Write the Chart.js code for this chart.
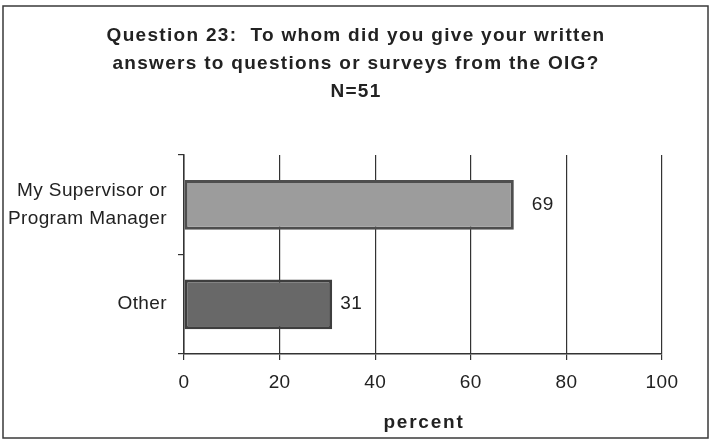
<!DOCTYPE html>
<html>
<head>
<meta charset="utf-8">
<script src="https://cdn.jsdelivr.net/npm/chart.js@4/dist/chart.umd.min.js"></script>
<style>
  html, body { margin: 0; padding: 0; background: #fff; }
  #wrap { width: 711px; height: 441px; position: relative; }
</style>
</head>
<body>
<div id="wrap"><canvas id="chart" width="711" height="441"></canvas></div>
<script>
// ── DATA ─────────────────────────────────────────────────
const titleLines = [
  'Question 23:  To whom did you give your written',
  'answers to questions or surveys from the OIG?',
  'N=51'
];
const categories = [['My Supervisor or', 'Program Manager'], 'Other'];
const percents   = [69, 31];
const xTicks     = [0, 20, 40, 60, 80, 100];
const axisTitle  = 'percent';

const FONT = "'Liberation Sans', Arial, sans-serif";
const labelGap = [18, 8];   // px between bar end and its value label

// ── PLUGINS ──────────────────────────────────────────────
// white page, outer frame, slight letter spacing for library text
const framePlugin = {
  id: 'frame',
  beforeDraw(chart) {
    const ctx = chart.ctx;
    ctx.save();
    ctx.fillStyle = '#fff';
    ctx.fillRect(0, 0, chart.width, chart.height);
    ctx.strokeStyle = '#3a3a3a';
    ctx.lineWidth = 1.5;
    ctx.strokeRect(3, 6, 705, 432);
    ctx.restore();
    ctx.letterSpacing = '0.4px';
  }
};

// heading + axis title, spaced out like the original
const headings = {
  id: 'headings',
  afterDraw(chart) {
    const ctx = chart.ctx;
    const area = chart.chartArea;
    ctx.save();
    ctx.fillStyle = '#222';
    ctx.textAlign = 'center';
    ctx.textBaseline = 'alphabetic';
    ctx.font = 'bold 19px ' + FONT;
    ctx.letterSpacing = '1.3px';
    titleLines.forEach((line, i) => {
      ctx.fillText(line, 356, 41 + i * 28);
    });
    ctx.font = 'bold 19px ' + FONT;
    ctx.letterSpacing = '1.8px';
    ctx.fillText(axisTitle, (area.left + area.right) / 2 + 1, 428);
    ctx.restore();
  }
};

// value labels to the right of each bar
const valueLabels = {
  id: 'valueLabels',
  afterDatasetsDraw(chart) {
    const ctx = chart.ctx;
    const meta = chart.getDatasetMeta(0);
    ctx.save();
    ctx.font = '19px ' + FONT;
    ctx.fillStyle = '#222';
    ctx.textAlign = 'left';
    ctx.textBaseline = 'middle';
    meta.data.forEach((bar, i) => {
      ctx.fillText(String(percents[i]), bar.x + labelGap[i], bar.y);
    });
    ctx.restore();
  }
};

// ── CHART ────────────────────────────────────────────────
new Chart(document.getElementById('chart').getContext('2d'), {
  type: 'bar',
  data: {
    labels: categories,
    datasets: [{
      data: percents,
      backgroundColor: ['#9c9c9c', '#686868'],
      borderColor: ['#4e4e4e', '#3e3e3e'],
      borderWidth: 3,
      borderSkipped: false,
      categoryPercentage: 1,
      barPercentage: 0.5
    }]
  },
  options: {
    indexAxis: 'y',
    responsive: false,
    animation: false,
    events: [],
    layout: { padding: { left: 0, right: 49, top: 155, bottom: 0 } },
    plugins: {
      legend: { display: false },
      tooltip: { enabled: false },
      title: { display: false }
    },
    scales: {
      x: {
        min: 0,
        max: 100,
        afterBuildTicks(scale) { scale.ticks = xTicks.map(v => ({ value: v })); },
        afterFit(scale) { scale.height = 87; },
        border: { display: true, color: '#333', width: 1.5 },
        grid: { color: '#333', lineWidth: 1.2, tickLength: 6, drawTicks: true },
        ticks: { color: '#222', font: { family: FONT, size: 19 }, padding: 11 }
      },
      y: {
        afterFit(scale) { scale.width = 184; },
        border: { display: true, color: '#333', width: 1.5 },
        grid: { offset: true, drawOnChartArea: false, drawTicks: true, tickLength: 6, color: '#333', lineWidth: 1.2 },
        ticks: { color: '#222', font: { family: FONT, size: 19, lineHeight: 1.45 }, padding: 11 }
      }
    }
  },
  plugins: [framePlugin, valueLabels, headings]
});
</script>
</body>
</html>
